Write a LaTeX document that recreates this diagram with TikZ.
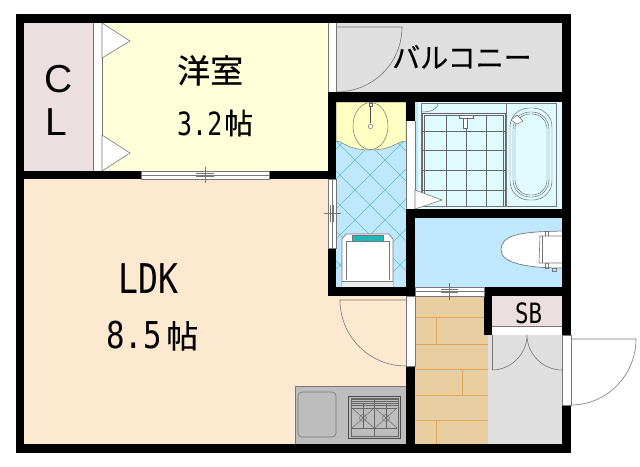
\documentclass[tikz,border=0pt]{standalone}
\usepackage{graphicx}
\usepackage{fontspec}
\setmainfont{Liberation Sans}
\newfontfamily\jpf[FakeBold=0.4]{Noto Sans CJK JP}
\newfontfamily\monof{DejaVu Sans Mono}
\newcommand{\fs}[1]{\fontsize{#1}{#1}\selectfont}
\definecolor{cpink}{HTML}{ECDFDF}
\definecolor{cyel}{HTML}{FFFFD9}
\definecolor{cpeach}{HTML}{FDE8D0}
\definecolor{cgray}{HTML}{DFDFDF}
\definecolor{cblue}{HTML}{BFE8FF}
\definecolor{cyel2}{HTML}{FFFFC4}
\definecolor{cwood}{HTML}{E8CDA0}
\definecolor{cwoodl}{HTML}{E0A45A}
\definecolor{cbath}{HTML}{E0FBFF}
\definecolor{ctile}{HTML}{62BEC8}
\definecolor{cteal}{HTML}{1FB8B8}
\definecolor{ckit}{HTML}{BDBDBD}
\definecolor{cline}{HTML}{777777}
\tikzset{
  wall/.style={fill=black,draw=none},
  thin line/.style={draw=cline,line width=0.6pt},
  dark line/.style={draw=black!60,line width=0.45pt},
  strip/.style={fill=white,draw=cline,line width=0.6pt},
  woodline/.style={draw=cwoodl,line width=0.8pt},
  tileline/.style={draw=ctile,line width=0.6pt},
  label/.style={inner sep=0pt,anchor=base west,text=black},
}
\begin{document}
\begin{tikzpicture}[x=1pt,y=-1pt]
\useasboundingbox (0,0) rectangle (640,466);
\fill[white] (0,0) rectangle (640,466);
% room fills
\fill[cpink] (24,23) rectangle (93,171);
\fill[cyel] (102,23) rectangle (328,171);
\fill[cpeach] (24,179) rectangle (406,444);
\fill[cgray] (336,23) rectangle (562,92);
\fill[cblue] (336,102) rectangle (406,287);
\fill[cbath] (415,102) rectangle (562,209);
\fill[cblue] (415,102) rectangle (418,209);
\fill[cblue] (415,218) rectangle (562,287);
\fill[cpink] (492,296) rectangle (562,326);
\fill[cwood] (415,296) rectangle (488,444);
\fill[cgray] (488,335) rectangle (562,444);
% tiles in wash room
\begin{scope}
\clip (336,141) rectangle (406,287);
\foreach \k in {425,455,...,725} {\draw[tileline] (\k-100,100) -- (\k-300,300);}
\foreach \k in {-75,-45,...,315} {\draw[tileline] (\k+100,100) -- (\k+300,300);}
\end{scope}
% basin counter
\path[fill=cyel2,draw=cline,line width=0.5pt] (336,141) .. controls (343,141) and (347,150) .. (370,150) .. controls (393,150) and (397,141) .. (406,141) -- (406,102) -- (336,102) -- cycle;
\draw[dark line] (370.5,126) ellipse[x radius=17.5,y radius=23.5];
\draw[dark line,fill=white] (368.8,103) rectangle (372.2,106);
\draw[line width=1.4pt,black!70] (370.5,106) -- (370.5,123);
\draw[dark line,fill=white] (370.5,126.5) circle[radius=2.2];
% strips
\fill[white] (93,23) rectangle (102,171);
\draw[thin line] (93,23) -- (93,171) (102,23) -- (102,171);
\fill[white] (328,23) rectangle (336,93);
\draw[thin line] (328,23) -- (328,93) (336,23) -- (336,93);
\draw[thin line,fill=white] (102,23) -- (130,41) -- (102,58) -- cycle;
\draw[thin line,fill=white] (102,135) -- (130,153) -- (102,171) -- cycle;
% balcony door
\draw[thin line] (336,27) -- (402,27) .. controls (402,63.5) and (372.5,92) .. (336,92);
% bath
\draw[thin line] (421,103) rectangle (556,206);
\draw[thin line] (506,103) -- (506,206);
\draw[thin line] (421,112) .. controls (430,112) and (438,110) .. (438,103);
\draw[dark line] (422,113) -- (505,113) (424,115) -- (503,115) (422,113) -- (422,206) (424,115) -- (424,206) (505,113) -- (505,206) (503,115) -- (503,206);
\foreach \v in {131,150,170,190} {\draw[dark line] (422,\v) -- (505,\v);}
\foreach \v in {446,466.5,486} {\draw[dark line] (\v,115) -- (\v,206);}
\draw[dark line,fill=white] (459,115) rectangle (473,118);
\draw[dark line,fill=white] (463.5,118) rectangle (467.5,128);
% tub
\draw[dark line,rounded corners=19pt] (510,108) rectangle (552,200);
\draw[dark line,rounded corners=17pt] (513,112) rectangle (549,197);
\draw[dark line,rounded corners=15pt] (515,114) rectangle (547,195);
\draw[dark line,fill=white] (511,120) -- (517,115) -- (523,121) -- (517,124) -- cycle;
% bath folding door
\fill[white] (406,121) rectangle (415,209);
\draw[thin line] (406,121) -- (406,209) (415,121) -- (415,209);
\draw[thin line,fill=white] (415,190) -- (442,200) -- (415,209) -- cycle;
% washing machine
\path[fill=white,draw=cline,line width=0.7pt] (342,287) -- (342,239) -- (346,234) -- (389,234) -- (393,239) -- (393,287) -- cycle;
\draw[thin line] (346,280) -- (346,241) -- (389,241) -- (389,280);
\fill[cgray!60] (342,281) rectangle (393,287);
\draw[thin line] (342,281) -- (393,281);
\fill[cteal] (352,235) rectangle (383,241);
\draw[thin line] (352,235) rectangle (383,241);
% toilet
\path[fill=white,draw=cline,line width=0.7pt] (562,231) .. controls (530,232) and (501,232) .. (501,250) .. controls (501,264) and (530,268) .. (562,268);
\draw[thin line] (545,231) rectangle (548,236);
\draw[thin line] (545,263) rectangle (548,268);
\draw[thin line] (552,268) rectangle (556,271);
\draw[thin line,fill=white] (562,236) -- (540,236) -- (539,263) -- (562,263);
\draw[thin line] (542,236) -- (542,263);
\fill[white] (543,237) rectangle (562,262);
% wood floor
\foreach \v in {317,344,369,395,420} {\draw[woodline] (415,\v) -- (488,\v);}
\draw[woodline] (436,317) -- (436,344);
\draw[woodline] (462,369) -- (462,395);
\draw[woodline] (436,420) -- (436,444);
% kitchen
\fill[ckit] (295,386) rectangle (407,444);
\draw[thin line] (295,386) rectangle (407,444);
\draw[thin line,rounded corners=4pt] (298,392) rectangle (336,437);
\draw[black!70,line width=0.8pt] (348,396) rectangle (400,438);
\draw[dark line] (351,398) rectangle (398,436);
\foreach \v in {399,401,403,405} {\draw[dark line] (351,\v) -- (398,\v);}
\draw[dark line] (374.5,398) -- (374.5,436);
\draw[dark line] (352,408) -- (397,408) (352,428) -- (397,428);
\foreach \c in {363,386} {
  \draw[dark line] (\c-11,408) -- (\c+11,428) (\c-11,428) -- (\c+11,408);
  \draw[dark line] (\c,403) -- (\c,428);
  \draw[dark line] (\c,418) circle[radius=3.5];
}
% walls
\fill[wall] (16,14) rectangle (571,23);
\fill[wall] (16,14) rectangle (24,453);
\fill[wall] (16,444) rectangle (571,453);
\fill[wall] (562,14) rectangle (571,335);
\fill[wall] (562,405) rectangle (571,453);
\fill[wall] (24,171) rectangle (141,179);
\fill[wall] (269,171) rectangle (336,179);
\fill[wall] (328,93) rectangle (336,179);
\fill[wall] (328,92) rectangle (562,102);
\fill[wall] (406,102) rectangle (415,121);
\fill[wall] (406,209) rectangle (562,218);
\fill[wall] (406,209) rectangle (415,296);
\fill[wall] (328,248) rectangle (336,296);
\fill[wall] (328,287) rectangle (415,296);
\fill[wall] (484,287) rectangle (562,296);
\fill[wall] (484,287) rectangle (492,335);
\fill[wall] (406,366) rectangle (415,444);
% openings
\draw[strip] (141,171) rectangle (269,179);
\draw[thin line] (141,175) -- (269,175) (196,173.5) -- (214,173.5) (196,176.5) -- (214,176.5) (205,167) -- (205,183);
\draw[strip] (328,179) rectangle (336,248);
\draw[thin line] (332,179) -- (332,248) (324,213) -- (341,213) (330.5,205) -- (330.5,222) (333.5,205) -- (333.5,222);
\draw[strip] (415,287) rectangle (484,296);
\draw[thin line] (415,291) -- (484,291) (449,283) -- (449,300) (441,289.5) -- (458,289.5) (441,292.5) -- (458,292.5);
\draw[strip] (406,296) rectangle (415,366);
\draw[strip] (562,335) rectangle (571,405);
\fill[white] (492,327) rectangle (562,335);
\draw[thin line] (492,326.5) -- (562,326.5);
% doors
\draw[thin line] (406,300) -- (340,300) .. controls (340,336.5) and (369.5,366) .. (406,366);
\draw[thin line] (492,370) .. controls (511,370) and (527,354) .. (527,335) .. controls (527,354) and (543,370) .. (562,370);
\draw[thin line] (492,335) -- (492,370) (562,335) -- (562,370);
\draw[thin line] (571,339) -- (636,339) .. controls (636,375) and (607,405) .. (571,405);
% labels
\node[label] (cl1) at (44,92) {\fs{39}C};
\node[label] (cl2) at (45,135) {\fs{39}L};
\node[label] (room) at (177,83) {\jpf\fs{33}洋室};
\node[label] (roomsz) at (177,135) {\monof\fs{32}\scalebox{0.78}[1]{3.2}};
\node[label] (roomsz2) at (224,134) {\jpf\fs{29}帖};
\node[label] (bal) at (392,68) {\jpf\fs{28}バルコニー};
\node[label] (ldk) at (118,293) {\monof\fs{41}\scalebox{0.81}[1]{LDK}};
\node[label] (ldksz) at (106,348) {\monof\fs{37}\scalebox{0.83}[1]{8.5}};
\node[label] (ldksz2) at (166,348) {\jpf\fs{32}帖};
\node[label] (sb) at (515,323) {\monof\fs{28}\scalebox{0.8}[1]{SB}};
\end{tikzpicture}
\end{document}
